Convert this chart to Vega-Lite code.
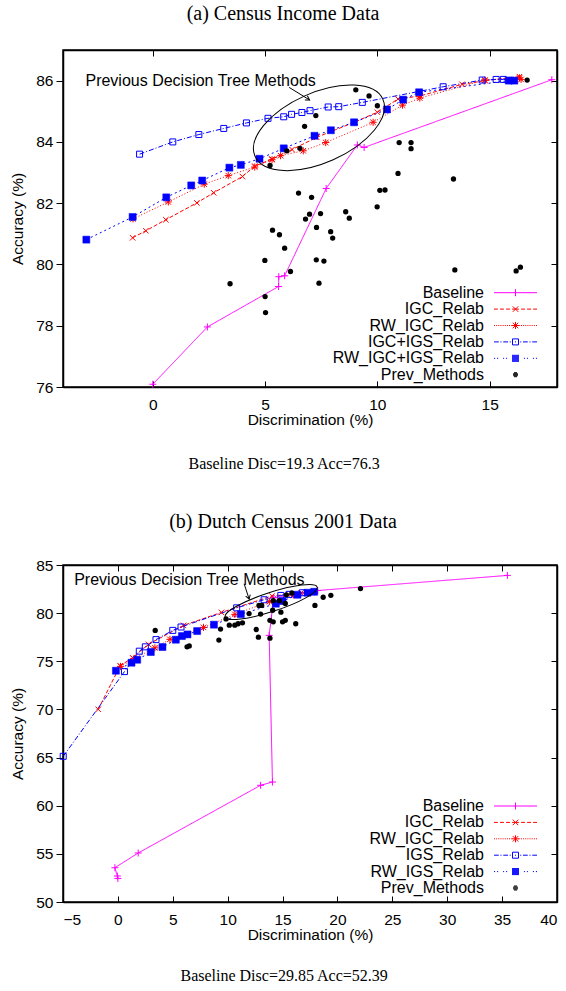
{
  "$schema": "https://vega.github.io/schema/vega-lite/v6.json",
  "background": "white",
  "padding": {"left": 10, "top": 2, "right": 0, "bottom": 0},
  "spacing": 39,
  "resolve": {
    "scale": {"shape": "independent", "stroke": "independent", "color": "independent", "strokeDash": "independent"},
    "legend": {"shape": "independent", "stroke": "independent", "color": "independent", "strokeDash": "independent"}
  },
  "datasets": {
    "a": [
      {"s": "Baseline", "x": 0, "y": 76.09},
      {"s": "Baseline", "x": 2.43, "y": 77.96},
      {"s": "Baseline", "x": 5.6, "y": 79.28},
      {"s": "Baseline", "x": 5.61, "y": 79.6},
      {"s": "Baseline", "x": 5.87, "y": 79.63},
      {"s": "Baseline", "x": 7.72, "y": 82.48},
      {"s": "Baseline", "x": 9.11, "y": 83.9},
      {"s": "Baseline", "x": 9.41, "y": 83.82},
      {"s": "Baseline", "x": 17.77, "y": 86.03},
      {"s": "IGC_Relab", "x": -0.9, "y": 80.87},
      {"s": "IGC_Relab", "x": -0.31, "y": 81.1},
      {"s": "IGC_Relab", "x": 0.58, "y": 81.46},
      {"s": "IGC_Relab", "x": 1.96, "y": 82.01},
      {"s": "IGC_Relab", "x": 2.71, "y": 82.34},
      {"s": "IGC_Relab", "x": 3.99, "y": 82.87},
      {"s": "IGC_Relab", "x": 4.54, "y": 83.21},
      {"s": "IGC_Relab", "x": 5.31, "y": 83.44},
      {"s": "IGC_Relab", "x": 6.2, "y": 83.75},
      {"s": "IGC_Relab", "x": 7.3, "y": 84.15},
      {"s": "IGC_Relab", "x": 9.0, "y": 84.65},
      {"s": "IGC_Relab", "x": 10.0, "y": 84.97},
      {"s": "IGC_Relab", "x": 10.92, "y": 85.4},
      {"s": "IGC_Relab", "x": 11.9, "y": 85.5},
      {"s": "IGC_Relab", "x": 13.77, "y": 85.88},
      {"s": "IGC_Relab", "x": 14.79, "y": 86.0},
      {"s": "IGC_Relab", "x": 16.33, "y": 86.13},
      {"s": "RW_IGC_Relab", "x": -0.88, "y": 81.49},
      {"s": "RW_IGC_Relab", "x": 0.69, "y": 82.04},
      {"s": "RW_IGC_Relab", "x": 2.29, "y": 82.62},
      {"s": "RW_IGC_Relab", "x": 3.36, "y": 82.9},
      {"s": "RW_IGC_Relab", "x": 4.54, "y": 83.18},
      {"s": "RW_IGC_Relab", "x": 5.31, "y": 83.42},
      {"s": "RW_IGC_Relab", "x": 5.69, "y": 83.55},
      {"s": "RW_IGC_Relab", "x": 6.7, "y": 83.71},
      {"s": "RW_IGC_Relab", "x": 7.7, "y": 83.98},
      {"s": "RW_IGC_Relab", "x": 9.81, "y": 84.64},
      {"s": "RW_IGC_Relab", "x": 11.12, "y": 85.2},
      {"s": "RW_IGC_Relab", "x": 11.89, "y": 85.43},
      {"s": "RW_IGC_Relab", "x": 14.79, "y": 86.02},
      {"s": "RW_IGC_Relab", "x": 16.33, "y": 86.09},
      {"s": "RW_IGC_Relab", "x": 16.4, "y": 86.04},
      {"s": "IGC+IGS_Relab", "x": -0.59, "y": 83.6},
      {"s": "IGC+IGS_Relab", "x": 0.89, "y": 84.0},
      {"s": "IGC+IGS_Relab", "x": 2.05, "y": 84.24},
      {"s": "IGC+IGS_Relab", "x": 3.16, "y": 84.44},
      {"s": "IGC+IGS_Relab", "x": 4.17, "y": 84.62},
      {"s": "IGC+IGS_Relab", "x": 5.13, "y": 84.77},
      {"s": "IGC+IGS_Relab", "x": 5.83, "y": 84.82},
      {"s": "IGC+IGS_Relab", "x": 6.18, "y": 84.9},
      {"s": "IGC+IGS_Relab", "x": 6.64, "y": 84.96},
      {"s": "IGC+IGS_Relab", "x": 7.0, "y": 85.02},
      {"s": "IGC+IGS_Relab", "x": 7.81, "y": 85.14},
      {"s": "IGC+IGS_Relab", "x": 8.28, "y": 85.15},
      {"s": "IGC+IGS_Relab", "x": 9.33, "y": 85.29},
      {"s": "IGC+IGS_Relab", "x": 12.93, "y": 85.8},
      {"s": "IGC+IGS_Relab", "x": 14.67, "y": 86.02},
      {"s": "IGC+IGS_Relab", "x": 15.29, "y": 86.04},
      {"s": "IGC+IGS_Relab", "x": 15.61, "y": 86.04},
      {"s": "IGC+IGS_Relab", "x": 15.94, "y": 86.01},
      {"s": "RW_IGC+IGS_Relab", "x": -2.96, "y": 80.81},
      {"s": "RW_IGC+IGS_Relab", "x": -0.9, "y": 81.55},
      {"s": "RW_IGC+IGS_Relab", "x": 0.6, "y": 82.19},
      {"s": "RW_IGC+IGS_Relab", "x": 1.71, "y": 82.58},
      {"s": "RW_IGC+IGS_Relab", "x": 2.2, "y": 82.74},
      {"s": "RW_IGC+IGS_Relab", "x": 3.41, "y": 83.16},
      {"s": "RW_IGC+IGS_Relab", "x": 3.92, "y": 83.25},
      {"s": "RW_IGC+IGS_Relab", "x": 4.75, "y": 83.45},
      {"s": "RW_IGC+IGS_Relab", "x": 5.83, "y": 83.79},
      {"s": "RW_IGC+IGS_Relab", "x": 7.2, "y": 84.2},
      {"s": "RW_IGC+IGS_Relab", "x": 7.93, "y": 84.38},
      {"s": "RW_IGC+IGS_Relab", "x": 8.96, "y": 84.64},
      {"s": "RW_IGC+IGS_Relab", "x": 10.43, "y": 85.06},
      {"s": "RW_IGC+IGS_Relab", "x": 11.15, "y": 85.38},
      {"s": "RW_IGC+IGS_Relab", "x": 11.86, "y": 85.62},
      {"s": "RW_IGC+IGS_Relab", "x": 15.85, "y": 86.0},
      {"s": "RW_IGC+IGS_Relab", "x": 16.1, "y": 86.0},
      {"s": "Prev_Methods", "x": 7.26, "y": 84.86},
      {"s": "Prev_Methods", "x": 6.76, "y": 84.51},
      {"s": "Prev_Methods", "x": 6.55, "y": 83.79},
      {"s": "Prev_Methods", "x": 5.97, "y": 83.71},
      {"s": "Prev_Methods", "x": 5.22, "y": 83.23},
      {"s": "Prev_Methods", "x": 6.49, "y": 82.33},
      {"s": "Prev_Methods", "x": 7.07, "y": 82.19},
      {"s": "Prev_Methods", "x": 6.98, "y": 81.64},
      {"s": "Prev_Methods", "x": 6.8, "y": 81.48},
      {"s": "Prev_Methods", "x": 7.29, "y": 81.21},
      {"s": "Prev_Methods", "x": 5.33, "y": 81.12},
      {"s": "Prev_Methods", "x": 5.64, "y": 80.97},
      {"s": "Prev_Methods", "x": 9.04, "y": 85.7},
      {"s": "Prev_Methods", "x": 9.63, "y": 85.5},
      {"s": "Prev_Methods", "x": 10.0, "y": 85.18},
      {"s": "Prev_Methods", "x": 10.97, "y": 83.98},
      {"s": "Prev_Methods", "x": 11.5, "y": 83.98},
      {"s": "Prev_Methods", "x": 11.5, "y": 83.78},
      {"s": "Prev_Methods", "x": 10.92, "y": 82.97},
      {"s": "Prev_Methods", "x": 13.39, "y": 82.79},
      {"s": "Prev_Methods", "x": 10.11, "y": 82.42},
      {"s": "Prev_Methods", "x": 10.34, "y": 82.43},
      {"s": "Prev_Methods", "x": 9.99, "y": 81.88},
      {"s": "Prev_Methods", "x": 8.59, "y": 81.72},
      {"s": "Prev_Methods", "x": 8.75, "y": 81.51},
      {"s": "Prev_Methods", "x": 7.47, "y": 81.66},
      {"s": "Prev_Methods", "x": 7.92, "y": 81.07},
      {"s": "Prev_Methods", "x": 8.01, "y": 80.86},
      {"s": "Prev_Methods", "x": 16.67, "y": 86.02},
      {"s": "Prev_Methods", "x": 5.87, "y": 80.53},
      {"s": "Prev_Methods", "x": 4.99, "y": 80.13},
      {"s": "Prev_Methods", "x": 6.13, "y": 79.77},
      {"s": "Prev_Methods", "x": 3.44, "y": 79.37},
      {"s": "Prev_Methods", "x": 5.0, "y": 78.95},
      {"s": "Prev_Methods", "x": 5.02, "y": 78.43},
      {"s": "Prev_Methods", "x": 7.28, "y": 80.15},
      {"s": "Prev_Methods", "x": 7.62, "y": 80.11},
      {"s": "Prev_Methods", "x": 7.4, "y": 79.39},
      {"s": "Prev_Methods", "x": 13.45, "y": 79.82},
      {"s": "Prev_Methods", "x": 16.18, "y": 79.79},
      {"s": "Prev_Methods", "x": 16.37, "y": 79.91}
    ],
    "b": [
      {"s": "Baseline", "x": 0.0, "y": 52.45},
      {"s": "Baseline", "x": -0.05, "y": 52.7},
      {"s": "Baseline", "x": -0.27, "y": 53.56},
      {"s": "Baseline", "x": 1.85, "y": 55.09},
      {"s": "Baseline", "x": 13.0, "y": 62.12},
      {"s": "Baseline", "x": 14.08, "y": 62.46},
      {"s": "Baseline", "x": 13.78, "y": 77.69},
      {"s": "Baseline", "x": 14.2, "y": 81.6},
      {"s": "Baseline", "x": 18.2, "y": 82.35},
      {"s": "Baseline", "x": 35.48, "y": 83.92},
      {"s": "IGC_Relab", "x": -1.79, "y": 70.01},
      {"s": "IGC_Relab", "x": 0.21, "y": 74.54},
      {"s": "IGC_Relab", "x": 1.33, "y": 75.37},
      {"s": "IGC_Relab", "x": 2.79, "y": 76.76},
      {"s": "IGC_Relab", "x": 5.98, "y": 78.73},
      {"s": "IGC_Relab", "x": 9.44, "y": 80.08},
      {"s": "IGC_Relab", "x": 14.03, "y": 81.78},
      {"s": "IGC_Relab", "x": 16.67, "y": 82.09},
      {"s": "IGC_Relab", "x": 17.88, "y": 82.19},
      {"s": "RW_IGC_Relab", "x": 0.24, "y": 74.47},
      {"s": "RW_IGC_Relab", "x": 1.46, "y": 75.26},
      {"s": "RW_IGC_Relab", "x": 3.37, "y": 76.4},
      {"s": "RW_IGC_Relab", "x": 4.74, "y": 77.28},
      {"s": "RW_IGC_Relab", "x": 7.8, "y": 78.52},
      {"s": "RW_IGC_Relab", "x": 10.66, "y": 79.87},
      {"s": "RW_IGC_Relab", "x": 13.8, "y": 81.2},
      {"s": "RW_IGC_Relab", "x": 16.0, "y": 81.9},
      {"s": "RW_IGC_Relab", "x": 17.9, "y": 82.2},
      {"s": "IGS_Relab", "x": -4.98, "y": 65.13},
      {"s": "IGS_Relab", "x": 0.6, "y": 73.93},
      {"s": "IGS_Relab", "x": 1.95, "y": 76.05},
      {"s": "IGS_Relab", "x": 2.5, "y": 76.5},
      {"s": "IGS_Relab", "x": 3.47, "y": 77.25},
      {"s": "IGS_Relab", "x": 5.0, "y": 78.21},
      {"s": "IGS_Relab", "x": 5.75, "y": 78.56},
      {"s": "IGS_Relab", "x": 10.82, "y": 80.55},
      {"s": "IGS_Relab", "x": 13.32, "y": 81.39},
      {"s": "IGS_Relab", "x": 14.84, "y": 81.84},
      {"s": "IGS_Relab", "x": 15.6, "y": 81.95},
      {"s": "IGS_Relab", "x": 16.81, "y": 82.12},
      {"s": "RW_IGS_Relab", "x": -0.18, "y": 74.02},
      {"s": "RW_IGS_Relab", "x": 1.24, "y": 74.85},
      {"s": "RW_IGS_Relab", "x": 1.76, "y": 75.16},
      {"s": "RW_IGS_Relab", "x": 3.0, "y": 75.96},
      {"s": "RW_IGS_Relab", "x": 4.06, "y": 76.48},
      {"s": "RW_IGS_Relab", "x": 5.28, "y": 77.24},
      {"s": "RW_IGS_Relab", "x": 5.83, "y": 77.62},
      {"s": "RW_IGS_Relab", "x": 6.34, "y": 77.79},
      {"s": "RW_IGS_Relab", "x": 7.22, "y": 78.14},
      {"s": "RW_IGS_Relab", "x": 8.75, "y": 78.8},
      {"s": "RW_IGS_Relab", "x": 11.2, "y": 79.9},
      {"s": "RW_IGS_Relab", "x": 14.39, "y": 80.98},
      {"s": "RW_IGS_Relab", "x": 15.0, "y": 81.26},
      {"s": "RW_IGS_Relab", "x": 16.36, "y": 81.91},
      {"s": "RW_IGS_Relab", "x": 17.27, "y": 82.12},
      {"s": "RW_IGS_Relab", "x": 17.88, "y": 82.22},
      {"s": "Prev_Methods", "x": 3.4, "y": 78.2},
      {"s": "Prev_Methods", "x": 6.3, "y": 76.5},
      {"s": "Prev_Methods", "x": 6.5, "y": 76.6},
      {"s": "Prev_Methods", "x": 9.2, "y": 77.2},
      {"s": "Prev_Methods", "x": 9.35, "y": 78.35},
      {"s": "Prev_Methods", "x": 9.85, "y": 79.4},
      {"s": "Prev_Methods", "x": 10.15, "y": 78.75},
      {"s": "Prev_Methods", "x": 10.65, "y": 78.75},
      {"s": "Prev_Methods", "x": 10.95, "y": 78.9},
      {"s": "Prev_Methods", "x": 11.35, "y": 79.0},
      {"s": "Prev_Methods", "x": 11.95, "y": 79.95},
      {"s": "Prev_Methods", "x": 12.6, "y": 78.3},
      {"s": "Prev_Methods", "x": 12.8, "y": 77.5},
      {"s": "Prev_Methods", "x": 12.85, "y": 80.8},
      {"s": "Prev_Methods", "x": 13.1, "y": 80.8},
      {"s": "Prev_Methods", "x": 13.0, "y": 79.9},
      {"s": "Prev_Methods", "x": 13.85, "y": 79.25},
      {"s": "Prev_Methods", "x": 13.85, "y": 77.4},
      {"s": "Prev_Methods", "x": 14.15, "y": 79.1},
      {"s": "Prev_Methods", "x": 14.1, "y": 80.3},
      {"s": "Prev_Methods", "x": 14.15, "y": 81.3},
      {"s": "Prev_Methods", "x": 14.7, "y": 81.3},
      {"s": "Prev_Methods", "x": 14.85, "y": 80.1},
      {"s": "Prev_Methods", "x": 15.25, "y": 81.0},
      {"s": "Prev_Methods", "x": 15.0, "y": 79.1},
      {"s": "Prev_Methods", "x": 15.25, "y": 79.25},
      {"s": "Prev_Methods", "x": 16.2, "y": 78.9},
      {"s": "Prev_Methods", "x": 15.35, "y": 81.9},
      {"s": "Prev_Methods", "x": 15.85, "y": 82.1},
      {"s": "Prev_Methods", "x": 17.95, "y": 80.8},
      {"s": "Prev_Methods", "x": 18.7, "y": 81.65},
      {"s": "Prev_Methods", "x": 19.4, "y": 81.85},
      {"s": "Prev_Methods", "x": 22.1, "y": 82.55}
    ]
  },
  "vconcat": [
    {
      "title": {"text": "Baseline Disc=19.3 Acc=76.3", "orient": "bottom", "font": "Liberation Serif", "fontSize": 16, "fontWeight": "normal", "offset": 27, "anchor": "middle", "color": "black"},
      "vconcat": [
        {
          "title": {"text": "(a) Census Income Data", "font": "Liberation Serif", "fontSize": 20, "fontWeight": "normal", "offset": 26, "anchor": "middle", "dx": -27, "color": "black"},
          "width": 494,
          "height": 337,
          "resolve": {"axis": {"x": "independent", "y": "independent"}},
          "layer": [
            {
              "data": {"name": "a"},
              "transform": [{"filter": "datum.s !== 'Prev_Methods'"}],
              "mark": {"type": "line", "strokeWidth": 1},
              "encoding": {
                "x": {"field": "x", "type": "quantitative", "scale": {"domain": [-4, 18], "nice": false, "zero": false},
                      "axis": {"orient": "bottom", "values": [0, 5, 10, 15], "tickSize": -6, "labelPadding": 16, "title": "Discrimination (%)", "titlePadding": 0}},
                "y": {"field": "y", "type": "quantitative", "scale": {"domain": [76, 87], "nice": false, "zero": false},
                      "axis": {"orient": "left", "values": [76, 78, 80, 82, 84, 86], "tickSize": 7, "labelPadding": 3, "title": "Accuracy (%)", "titlePadding": 10}},
                "order": {"value": null},
                "detail": {"field": "s", "type": "nominal"},
                "color": {"field": "s", "type": "nominal", "legend": null,
                          "scale": {"domain": ["Baseline", "IGC_Relab", "RW_IGC_Relab", "IGC+IGS_Relab", "RW_IGC+IGS_Relab"],
                                    "range": ["#ff00ff", "#ff0000", "#ff0000", "#0000ff", "#0000ff"]}},
                "strokeDash": {"field": "s", "type": "nominal", "legend": null,
                               "scale": {"domain": ["Baseline", "IGC_Relab", "RW_IGC_Relab", "IGC+IGS_Relab", "RW_IGC+IGS_Relab"],
                                         "range": [[1, 0], [4, 2], [1, 2], [5, 2, 1, 2], [2, 3]]}}
              }
            },
            {
              "data": {"name": "a"},
              "transform": [{"filter": "datum.s === 'Baseline'"}],
              "mark": {"type": "point", "shape": "M -1 0 L 1 0 M 0 -1 L 0 1", "size": 49, "filled": false, "stroke": "#ff00ff", "strokeWidth": 1, "opacity": 1},
              "encoding": {"x": {"field": "x", "type": "quantitative", "axis": null}, "y": {"field": "y", "type": "quantitative", "axis": null}}
            },
            {
              "data": {"name": "a"},
              "transform": [{"filter": "datum.s === 'IGC_Relab'"}],
              "mark": {"type": "point", "shape": "M -1 -1 L 1 1 M -1 1 L 1 -1", "size": 30, "filled": false, "stroke": "#ff0000", "strokeWidth": 1, "opacity": 1},
              "encoding": {"x": {"field": "x", "type": "quantitative", "axis": null}, "y": {"field": "y", "type": "quantitative", "axis": null}}
            },
            {
              "data": {"name": "a"},
              "transform": [{"filter": "datum.s === 'RW_IGC_Relab'"}],
              "mark": {"type": "point", "shape": "M -1 -1 L 1 1 M -1 1 L 1 -1 M -1.3 0 L 1.3 0 M 0 -1.3 L 0 1.3", "size": 30, "filled": false, "stroke": "#ff0000", "strokeWidth": 1, "opacity": 1},
              "encoding": {"x": {"field": "x", "type": "quantitative", "axis": null}, "y": {"field": "y", "type": "quantitative", "axis": null}}
            },
            {
              "data": {"name": "a"},
              "transform": [{"filter": "datum.s === 'IGC+IGS_Relab'"}],
              "mark": {"type": "point", "shape": "square", "size": 36, "filled": false, "stroke": "#0000ff", "strokeWidth": 1, "opacity": 1},
              "encoding": {"x": {"field": "x", "type": "quantitative", "axis": null}, "y": {"field": "y", "type": "quantitative", "axis": null}}
            },
            {
              "data": {"name": "a"},
              "transform": [{"filter": "datum.s === 'RW_IGC+IGS_Relab'"}],
              "mark": {"type": "point", "shape": "square", "size": 49, "filled": true, "fill": "#0000ff", "stroke": "#0000ff", "strokeWidth": 0.5, "opacity": 1},
              "encoding": {"x": {"field": "x", "type": "quantitative", "axis": null}, "y": {"field": "y", "type": "quantitative", "axis": null}}
            },
            {
              "data": {"name": "a"},
              "transform": [{"filter": "datum.s === 'Prev_Methods'"}],
              "mark": {"type": "point", "shape": "circle", "size": 28, "filled": true, "fill": "#000000", "opacity": 1},
              "encoding": {
                "x": {"field": "x", "type": "quantitative", "axis": {"orient": "top", "values": [0, 5, 10, 15], "labels": false, "tickSize": -6, "title": null}},
                "y": {"field": "y", "type": "quantitative", "axis": {"orient": "right", "values": [76, 78, 80, 82, 84, 86], "labels": false, "tickSize": -6, "title": null}}
              }
            },
            {
              "data": {"values": []},
              "mark": {"type": "point", "filled": false, "opacity": 1, "strokeWidth": 1},
              "encoding": {
                "shape": {"field": "s", "type": "nominal",
                          "scale": {"domain": ["Baseline", "IGC_Relab", "RW_IGC_Relab", "IGC+IGS_Relab", "RW_IGC+IGS_Relab", "Prev_Methods"],
                                    "range": [
                                      "M -4.3 0 L 4.3 0 M 0 -0.7 L 0 0.7",
                                      "M -4.3 0 L -3.53 0 M -3.1 0 L -2.32 0 M -1.89 0 L -1.12 0 M -0.69 0 L 0.69 0 M 1.12 0 L 1.89 0 M 2.32 0 L 3.1 0 M 3.53 0 L 4.3 0 M -0.55 -0.55 L 0.55 0.55 M -0.55 0.55 L 0.55 -0.55",
                                      "M -4.3 0 L -4.1 0 M -3.87 0 L -3.67 0 M -3.44 0 L -3.24 0 M -3.01 0 L -2.81 0 M -2.58 0 L -2.38 0 M -2.15 0 L -1.95 0 M -1.72 0 L -1.52 0 M -1.29 0 L -1.09 0 M -0.86 0 L -0.66 0 M 0.66 0 L 0.86 0 M 1.09 0 L 1.29 0 M 1.52 0 L 1.72 0 M 1.95 0 L 2.15 0 M 2.38 0 L 2.58 0 M 2.81 0 L 3.01 0 M 3.24 0 L 3.44 0 M 3.67 0 L 3.87 0 M 4.1 0 L 4.3 0 M -0.55 -0.55 L 0.55 0.55 M -0.55 0.55 L 0.55 -0.55 M -0.7 0 L 0.7 0 M 0 -0.7 L 0 0.7",
                                      "M -4.3 0 L -3.35 0 M -3.01 0 L -2.8 0 M -2.45 0 L -1.5 0 M -1.16 0 L -0.95 0 M -0.1 0 L 0.1 0 M 0.95 0 L 1.16 0 M 1.5 0 L 2.45 0 M 2.8 0 L 3.01 0 M 3.35 0 L 4.3 0 M -0.6 -0.6 L 0.6 -0.6 L 0.6 0.6 L -0.6 0.6 Z",
                                      "M -4.3 0 L -4.08 0 M -3.7 0 L -3.48 0 M -2.49 0 L -2.28 0 M -1.89 0 L -1.68 0 M 1.68 0 L 1.89 0 M 2.28 0 L 2.49 0 M 3.48 0 L 3.7 0 M 4.08 0 L 4.3 0 M -0.7 -0.6 L 0.7 -0.6 M -0.7 -0.4 L 0.7 -0.4 M -0.7 -0.2 L 0.7 -0.2 M -0.7 0 L 0.7 0 M -0.7 0.2 L 0.7 0.2 M -0.7 0.4 L 0.7 0.4 M -0.7 0.6 L 0.7 0.6",
                                      "M -0.3 -0.4 L 0.3 -0.4 M -0.46 -0.2 L 0.46 -0.2 M -0.5 0 L 0.5 0 M -0.46 0.2 L 0.46 0.2 M -0.3 0.4 L 0.3 0.4"
                                    ]},
                          "legend": {"title": null, "orient": "none", "legendX": 444.5, "legendY": 234.7}},
                "stroke": {"field": "s", "type": "nominal",
                           "scale": {"domain": ["Baseline", "IGC_Relab", "RW_IGC_Relab", "IGC+IGS_Relab", "RW_IGC+IGS_Relab", "Prev_Methods"],
                                     "range": ["#ff00ff", "#ff0000", "#ff0000", "#0000ff", "#0000ff", "#000000"]},
                           "legend": {"title": null, "orient": "none", "legendX": 444.5, "legendY": 234.7}}
              }
            },
            {
              "data": {"values": [{}]},
              "mark": {"type": "point", "shape": "M -1 0 A 1 0.5 0 1 1 1 0 A 1 0.5 0 1 1 -1 0 Z", "size": 19600, "angle": -24, "filled": false, "stroke": "black", "strokeWidth": 1, "opacity": 1},
              "encoding": {
                "x": {"datum": 7.4, "type": "quantitative", "axis": null},
                "y": {"datum": 84.46, "type": "quantitative", "axis": null}
              }
            },
            {
              "data": {"values": [{}]},
              "mark": {"type": "rule", "stroke": "black", "strokeWidth": 1},
              "encoding": {
                "x": {"datum": 6.07, "type": "quantitative", "axis": null},
                "y": {"datum": 85.78, "type": "quantitative", "axis": null},
                "x2": {"datum": 6.98},
                "y2": {"datum": 85.37}
              }
            },
            {
              "data": {"values": [{}]},
              "mark": {"type": "point", "shape": "M -1 -0.6 L 0 0 L -1 0.6", "size": 64, "angle": 31, "filled": false, "stroke": "black", "strokeWidth": 1, "opacity": 1},
              "encoding": {
                "x": {"datum": 6.98, "type": "quantitative", "axis": null},
                "y": {"datum": 85.37, "type": "quantitative", "axis": null}
              }
            },
            {
              "data": {"values": [{}]},
              "mark": {"type": "text", "text": "Previous Decision Tree Methods", "align": "left", "baseline": "middle", "font": "Liberation Sans", "fontSize": 16, "color": "black"},
              "encoding": {
                "x": {"datum": -3.0, "type": "quantitative", "axis": null},
                "y": {"datum": 86.0, "type": "quantitative", "axis": null}
              }
            }
          ]
        }
      ]
    },
    {
      "title": {"text": "Baseline Disc=29.85 Acc=52.39", "orient": "bottom", "font": "Liberation Serif", "fontSize": 16, "fontWeight": "normal", "offset": 24, "anchor": "middle", "color": "black"},
      "vconcat": [
        {
          "title": {"text": "(b) Dutch Census 2001 Data", "font": "Liberation Serif", "fontSize": 20, "fontWeight": "normal", "offset": 26, "anchor": "middle", "dx": -27, "color": "black"},
          "width": 494,
          "height": 337,
          "resolve": {"axis": {"x": "independent", "y": "independent"}},
          "layer": [
            {
              "data": {"name": "b"},
              "transform": [{"filter": "datum.s !== 'Prev_Methods'"}],
              "mark": {"type": "line", "strokeWidth": 1},
              "encoding": {
                "x": {"field": "x", "type": "quantitative", "scale": {"domain": [-5, 40], "nice": false, "zero": false},
                      "axis": {"orient": "bottom", "values": [-5, 0, 5, 10, 15, 20, 25, 30, 35, 40], "tickSize": -6, "labelPadding": 16, "title": "Discrimination (%)", "titlePadding": 0}},
                "y": {"field": "y", "type": "quantitative", "scale": {"domain": [50, 85], "nice": false, "zero": false},
                      "axis": {"orient": "left", "values": [50, 55, 60, 65, 70, 75, 80, 85], "tickSize": 7, "labelPadding": 3, "title": "Accuracy (%)", "titlePadding": 10}},
                "order": {"value": null},
                "detail": {"field": "s", "type": "nominal"},
                "color": {"field": "s", "type": "nominal", "legend": null,
                          "scale": {"domain": ["Baseline", "IGC_Relab", "RW_IGC_Relab", "IGS_Relab", "RW_IGS_Relab"],
                                    "range": ["#ff00ff", "#ff0000", "#ff0000", "#0000ff", "#0000ff"]}},
                "strokeDash": {"field": "s", "type": "nominal", "legend": null,
                               "scale": {"domain": ["Baseline", "IGC_Relab", "RW_IGC_Relab", "IGS_Relab", "RW_IGS_Relab"],
                                         "range": [[1, 0], [4, 2], [1, 2], [5, 2, 1, 2], [2, 3]]}}
              }
            },
            {
              "data": {"name": "b"},
              "transform": [{"filter": "datum.s === 'Baseline'"}],
              "mark": {"type": "point", "shape": "M -1 0 L 1 0 M 0 -1 L 0 1", "size": 49, "filled": false, "stroke": "#ff00ff", "strokeWidth": 1, "opacity": 1},
              "encoding": {"x": {"field": "x", "type": "quantitative", "axis": null}, "y": {"field": "y", "type": "quantitative", "axis": null}}
            },
            {
              "data": {"name": "b"},
              "transform": [{"filter": "datum.s === 'IGC_Relab'"}],
              "mark": {"type": "point", "shape": "M -1 -1 L 1 1 M -1 1 L 1 -1", "size": 30, "filled": false, "stroke": "#ff0000", "strokeWidth": 1, "opacity": 1},
              "encoding": {"x": {"field": "x", "type": "quantitative", "axis": null}, "y": {"field": "y", "type": "quantitative", "axis": null}}
            },
            {
              "data": {"name": "b"},
              "transform": [{"filter": "datum.s === 'RW_IGC_Relab'"}],
              "mark": {"type": "point", "shape": "M -1 -1 L 1 1 M -1 1 L 1 -1 M -1.3 0 L 1.3 0 M 0 -1.3 L 0 1.3", "size": 30, "filled": false, "stroke": "#ff0000", "strokeWidth": 1, "opacity": 1},
              "encoding": {"x": {"field": "x", "type": "quantitative", "axis": null}, "y": {"field": "y", "type": "quantitative", "axis": null}}
            },
            {
              "data": {"name": "b"},
              "transform": [{"filter": "datum.s === 'IGS_Relab'"}],
              "mark": {"type": "point", "shape": "square", "size": 36, "filled": false, "stroke": "#0000ff", "strokeWidth": 1, "opacity": 1},
              "encoding": {"x": {"field": "x", "type": "quantitative", "axis": null}, "y": {"field": "y", "type": "quantitative", "axis": null}}
            },
            {
              "data": {"name": "b"},
              "transform": [{"filter": "datum.s === 'RW_IGS_Relab'"}],
              "mark": {"type": "point", "shape": "square", "size": 49, "filled": true, "fill": "#0000ff", "stroke": "#0000ff", "strokeWidth": 0.5, "opacity": 1},
              "encoding": {"x": {"field": "x", "type": "quantitative", "axis": null}, "y": {"field": "y", "type": "quantitative", "axis": null}}
            },
            {
              "data": {"name": "b"},
              "transform": [{"filter": "datum.s === 'Prev_Methods'"}],
              "mark": {"type": "point", "shape": "circle", "size": 28, "filled": true, "fill": "#000000", "opacity": 1},
              "encoding": {
                "x": {"field": "x", "type": "quantitative", "axis": {"orient": "top", "values": [-5, 0, 5, 10, 15, 20, 25, 30, 35, 40], "labels": false, "tickSize": -6, "title": null}},
                "y": {"field": "y", "type": "quantitative", "axis": {"orient": "right", "values": [50, 55, 60, 65, 70, 75, 80, 85], "labels": false, "tickSize": -6, "title": null}}
              }
            },
            {
              "data": {"values": []},
              "mark": {"type": "point", "filled": false, "opacity": 1, "strokeWidth": 1},
              "encoding": {
                "shape": {"field": "s", "type": "nominal",
                          "scale": {"domain": ["Baseline", "IGC_Relab", "RW_IGC_Relab", "IGS_Relab", "RW_IGS_Relab", "Prev_Methods"],
                                    "range": [
                                      "M -4.3 0 L 4.3 0 M 0 -0.7 L 0 0.7",
                                      "M -4.3 0 L -3.53 0 M -3.1 0 L -2.32 0 M -1.89 0 L -1.12 0 M -0.69 0 L 0.69 0 M 1.12 0 L 1.89 0 M 2.32 0 L 3.1 0 M 3.53 0 L 4.3 0 M -0.55 -0.55 L 0.55 0.55 M -0.55 0.55 L 0.55 -0.55",
                                      "M -4.3 0 L -4.1 0 M -3.87 0 L -3.67 0 M -3.44 0 L -3.24 0 M -3.01 0 L -2.81 0 M -2.58 0 L -2.38 0 M -2.15 0 L -1.95 0 M -1.72 0 L -1.52 0 M -1.29 0 L -1.09 0 M -0.86 0 L -0.66 0 M 0.66 0 L 0.86 0 M 1.09 0 L 1.29 0 M 1.52 0 L 1.72 0 M 1.95 0 L 2.15 0 M 2.38 0 L 2.58 0 M 2.81 0 L 3.01 0 M 3.24 0 L 3.44 0 M 3.67 0 L 3.87 0 M 4.1 0 L 4.3 0 M -0.55 -0.55 L 0.55 0.55 M -0.55 0.55 L 0.55 -0.55 M -0.7 0 L 0.7 0 M 0 -0.7 L 0 0.7",
                                      "M -4.3 0 L -3.35 0 M -3.01 0 L -2.8 0 M -2.45 0 L -1.5 0 M -1.16 0 L -0.95 0 M -0.1 0 L 0.1 0 M 0.95 0 L 1.16 0 M 1.5 0 L 2.45 0 M 2.8 0 L 3.01 0 M 3.35 0 L 4.3 0 M -0.6 -0.6 L 0.6 -0.6 L 0.6 0.6 L -0.6 0.6 Z",
                                      "M -4.3 0 L -4.08 0 M -3.7 0 L -3.48 0 M -2.49 0 L -2.28 0 M -1.89 0 L -1.68 0 M 1.68 0 L 1.89 0 M 2.28 0 L 2.49 0 M 3.48 0 L 3.7 0 M 4.08 0 L 4.3 0 M -0.7 -0.6 L 0.7 -0.6 M -0.7 -0.4 L 0.7 -0.4 M -0.7 -0.2 L 0.7 -0.2 M -0.7 0 L 0.7 0 M -0.7 0.2 L 0.7 0.2 M -0.7 0.4 L 0.7 0.4 M -0.7 0.6 L 0.7 0.6",
                                      "M -0.3 -0.4 L 0.3 -0.4 M -0.46 -0.2 L 0.46 -0.2 M -0.5 0 L 0.5 0 M -0.46 0.2 L 0.46 0.2 M -0.3 0.4 L 0.3 0.4"
                                    ]},
                          "legend": {"title": null, "orient": "none", "legendX": 444.5, "legendY": 233}},
                "stroke": {"field": "s", "type": "nominal",
                           "scale": {"domain": ["Baseline", "IGC_Relab", "RW_IGC_Relab", "IGS_Relab", "RW_IGS_Relab", "Prev_Methods"],
                                     "range": ["#ff00ff", "#ff0000", "#ff0000", "#0000ff", "#0000ff", "#000000"]},
                           "legend": {"title": null, "orient": "none", "legendX": 444.5, "legendY": 233}}
              }
            },
            {
              "data": {"values": [{}]},
              "mark": {"type": "point", "shape": "M -1 0 A 1 0.196 0 1 1 1 0 A 1 0.196 0 1 1 -1 0 Z", "size": 9370, "angle": -18, "filled": false, "stroke": "black", "strokeWidth": 1, "opacity": 1},
              "encoding": {
                "x": {"datum": 13.96, "type": "quantitative", "axis": null},
                "y": {"datum": 81.15, "type": "quantitative", "axis": null}
              }
            },
            {
              "data": {"values": [{}]},
              "mark": {"type": "rule", "stroke": "black", "strokeWidth": 1},
              "encoding": {
                "x": {"datum": 11.5, "type": "quantitative", "axis": null},
                "y": {"datum": 83.05, "type": "quantitative", "axis": null},
                "x2": {"datum": 11.96},
                "y2": {"datum": 81.45}
              }
            },
            {
              "data": {"values": [{}]},
              "mark": {"type": "point", "shape": "M -1 -0.6 L 0 0 L -1 0.6", "size": 64, "angle": 72, "filled": false, "stroke": "black", "strokeWidth": 1, "opacity": 1},
              "encoding": {
                "x": {"datum": 11.96, "type": "quantitative", "axis": null},
                "y": {"datum": 81.45, "type": "quantitative", "axis": null}
              }
            },
            {
              "data": {"values": [{}]},
              "mark": {"type": "text", "text": "Previous Decision Tree Methods", "align": "left", "baseline": "middle", "font": "Liberation Sans", "fontSize": 16, "color": "black"},
              "encoding": {
                "x": {"datum": -3.98, "type": "quantitative", "axis": null},
                "y": {"datum": 83.49, "type": "quantitative", "axis": null}
              }
            }
          ]
        }
      ]
    }
  ],
  "config": {
    "view": {"stroke": "black", "strokeWidth": 1.5},
    "font": "Liberation Sans",
    "axis": {
      "labelFont": "Liberation Sans", "labelFontSize": 15.5, "labelColor": "black",
      "titleFont": "Liberation Sans", "titleFontSize": 15.5, "titleFontWeight": "normal", "titleColor": "black",
      "domainColor": "black", "domainWidth": 1.5, "tickColor": "black", "tickWidth": 1, "grid": false
    },
    "legend": {
      "padding": 0, "rowPadding": 0.4, "symbolSize": 100, "symbolStrokeWidth": 1, "symbolOpacity": 1,
      "labelAlign": "right", "labelOffset": -39.5, "labelBaseline": "middle",
      "labelFont": "Liberation Sans", "labelFontSize": 16, "labelColor": "black", "labelLimit": 300
    }
  }
}
